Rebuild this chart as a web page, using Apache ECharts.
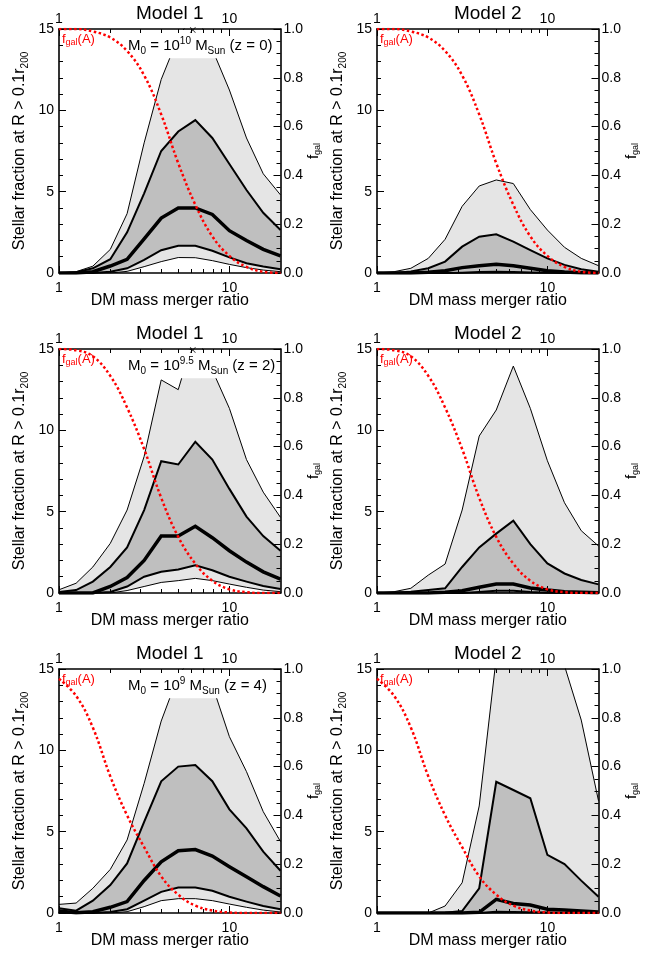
<!DOCTYPE html>
<html><head><meta charset="utf-8">
<script src="https://cdn.jsdelivr.net/npm/echarts@6/dist/echarts.min.js"></script>
<style>html,body{margin:0;padding:0;background:#fff}#c{width:650px;height:959px}</style>
</head><body><div id="c"></div>
<script>
// ---------------- data ----------------
const xRatio = [1.00, 1.26, 1.58, 2.00, 2.51, 3.16, 3.98, 5.01, 6.31, 7.94, 10.0, 12.6, 15.8, 19.95];
const xMajorTicks = [1, 10];
const xMinorTicks = [2, 3, 4, 5, 6, 7, 8, 9];

// Model 1, M0 = 10^10 (z = 0)
const m1z0OuterHi = [0, 0.08, 0.42, 1.45, 3.65, 8.0, 11.9, 14.5, 16, 13.75, 11.25, 8.3, 6.1, 4.8];
const m1z0InnerHi = [0, 0.05, 0.29, 0.85, 2.5, 4.9, 7.5, 8.7, 9.4, 8.3, 6.7, 5.1, 3.7, 2.64];
const m1z0Median  = [0, 0, 0.08, 0.43, 0.84, 2.1, 3.38, 4.0, 4.0, 3.6, 2.6, 2.0, 1.45, 1.05];
const m1z0InnerLo = [0, 0, 0, 0.08, 0.29, 0.8, 1.4, 1.68, 1.68, 1.37, 0.96, 0.6, 0.4, 0.23];
const m1z0OuterLo = [0, 0, 0, 0, 0.1, 0.39, 0.7, 0.95, 0.94, 0.76, 0.53, 0.33, 0.18, 0.08];
// Model 2, z = 0
const m2z0OuterHi = [0, 0.08, 0.29, 0.9, 2.07, 4.1, 5.35, 5.72, 5.5, 3.9, 2.64, 1.58, 0.9, 0.45];
const m2z0InnerHi = [0, 0, 0.1, 0.29, 0.7, 1.62, 2.23, 2.38, 1.93, 1.41, 0.9, 0.5, 0.23, 0.08];
const m2z0Median  = [0, 0, 0, 0.04, 0.14, 0.33, 0.45, 0.53, 0.45, 0.29, 0.14, 0.06, 0.02, 0];
const m2z0InnerLo = [0, 0, 0, 0, 0, 0.02, 0.06, 0.08, 0.06, 0.03, 0.01, 0, 0, 0];
const m2z0OuterLo = [0, 0, 0, 0, 0, 0, 0, 0, 0, 0, 0, 0, 0, 0];
// Model 1, M0 = 10^9.5 (z = 2)
const m1z2OuterHi = [0.2, 0.6, 1.6, 3.05, 5.1, 8.4, 13.1, 12.5, 16, 13.7, 11.35, 8.2, 6.2, 4.65];
const m1z2InnerHi = [0.06, 0.18, 0.7, 1.6, 2.8, 5.1, 8.1, 7.9, 9.3, 8.2, 6.4, 4.7, 3.5, 2.6];
const m1z2Median  = [0, 0, 0, 0.4, 0.95, 2.0, 3.5, 3.5, 4.1, 3.4, 2.6, 1.9, 1.3, 0.85];
const m1z2InnerLo = [0, 0, 0, 0.06, 0.4, 1.0, 1.3, 1.45, 1.7, 1.4, 1.0, 0.7, 0.43, 0.25];
const m1z2OuterLo = [0, 0, 0, 0, 0.15, 0.4, 0.65, 0.76, 0.9, 0.76, 0.55, 0.35, 0.18, 0.08];
// Model 2, z = 2
const m2z2OuterHi = [0, 0.08, 0.29, 1.1, 1.78, 5.1, 9.65, 11.25, 13.95, 11.35, 8.13, 5.55, 3.83, 2.89];
const m2z2InnerHi = [0, 0.02, 0.08, 0.18, 0.29, 1.6, 2.8, 3.65, 4.45, 3.0, 1.82, 1.2, 0.8, 0.53];
const m2z2Median  = [0, 0, 0, 0, 0.04, 0.14, 0.35, 0.55, 0.55, 0.31, 0.18, 0.08, 0.04, 0.02];
const m2z2InnerLo = [0, 0, 0, 0, 0, 0, 0.06, 0.14, 0.14, 0.06, 0.02, 0, 0, 0];
const m2z2OuterLo = [0, 0, 0, 0, 0, 0, 0, 0, 0, 0, 0, 0, 0, 0];
// Model 1, M0 = 10^9 (z = 4)
const m1z4OuterHi = [0.53, 0.61, 1.52, 2.68, 4.49, 7.97, 11.8, 14.6, 16, 14.0, 10.84, 8.69, 6.23, 4.39];
const m1z4InnerHi = [0.29, 0.14, 0.76, 1.72, 3.05, 5.6, 8.1, 9.0, 9.1, 8.1, 6.37, 5.2, 3.77, 2.6];
const m1z4Median  = [0.12, 0.02, 0.08, 0.35, 0.7, 2.0, 3.15, 3.83, 3.9, 3.5, 2.85, 2.23, 1.62, 1.05];
const m1z4InnerLo = [0.02, 0, 0, 0.06, 0.23, 0.76, 1.3, 1.56, 1.56, 1.37, 1.0, 0.7, 0.43, 0.23];
const m1z4OuterLo = [0, 0, 0, 0, 0.08, 0.39, 0.76, 0.88, 0.88, 0.76, 0.55, 0.35, 0.18, 0.06];
// Model 2, z = 4
const m2z4OuterHi = [0, 0, 0, 0, 0.43, 1.86, 6.58, 15.7, 18, 18, 17, 15.2, 11.86, 6.9];
const m2z4InnerHi = [0, 0, 0, 0, 0.02, 0.12, 1.52, 8.07, 7.56, 7.05, 3.57, 3.01, 1.99, 1.0];
const m2z4Median  = [0, 0, 0, 0, 0, 0, 0.04, 0.84, 0.59, 0.49, 0.23, 0.18, 0.12, 0.06];
const m2z4InnerLo = [0, 0, 0, 0, 0, 0, 0, 0.08, 0.06, 0.05, 0.03, 0.02, 0.01, 0];
const m2z4OuterLo = [0, 0, 0, 0, 0, 0, 0, 0, 0, 0, 0, 0, 0, 0];

// f_gal(A) curves (right axis)
const fgalZ0 = [1.0, 1.0, 0.99, 0.965, 0.91, 0.81, 0.65, 0.45, 0.28, 0.15, 0.07, 0.025, 0.005, 0];
const fgalZ2 = [1.0, 0.995, 0.97, 0.89, 0.76, 0.59, 0.39, 0.23, 0.12, 0.05, 0.015, 0.003, 0, 0];
const fgalZ4 = [0.96, 0.89, 0.76, 0.56, 0.40, 0.27, 0.15, 0.075, 0.03, 0.01, 0.002, 0, 0, 0];

// clipped-point markers at the top edge
const clipMarkX = 6.1, clipMarkY = 15;

const yLeftTicks = [0, 5, 10, 15];
const yRightTicks = [0.0, 0.2, 0.4, 0.6, 0.8, 1.0];

const panelTitles = ['Model 1', 'Model 2', 'Model 1', 'Model 2', 'Model 1', 'Model 2'];
const massExp = ['10', '9.5', '9'];
const redshift = ['0', '2', '4'];

// ---------------- layout ----------------
const FONT = '"Liberation Sans", Arial, Helvetica, sans-serif';
const colLeft = [59, 377], rowTop = [29, 349, 669], gridW = 221.5, gridH = 244;
const LIGHT = '#e5e5e5', DARK = '#bfbfbf';

const panels = [
  {r:0,c:0,b:[m1z0OuterHi,m1z0InnerHi,m1z0Median,m1z0InnerLo,m1z0OuterLo],f:fgalZ0,mark:true},
  {r:0,c:1,b:[m2z0OuterHi,m2z0InnerHi,m2z0Median,m2z0InnerLo,m2z0OuterLo],f:fgalZ0,mark:false},
  {r:1,c:0,b:[m1z2OuterHi,m1z2InnerHi,m1z2Median,m1z2InnerLo,m1z2OuterLo],f:fgalZ2,mark:true},
  {r:1,c:1,b:[m2z2OuterHi,m2z2InnerHi,m2z2Median,m2z2InnerLo,m2z2OuterLo],f:fgalZ2,mark:false},
  {r:2,c:0,b:[m1z4OuterHi,m1z4InnerHi,m1z4Median,m1z4InnerLo,m1z4OuterLo],f:fgalZ4,mark:false},
  {r:2,c:1,b:[m2z4OuterHi,m2z4InnerHi,m2z4Median,m2z4InnerLo,m2z4OuterLo],f:fgalZ4,mark:false}
];

const grids = [], xAxes = [], yAxes = [], series = [], graphics = [];
const pts = arr => xRatio.map((x, i) => [x, arr[i]]);
const axisLineStyle = {color: '#000', width: 1.6};

panels.forEach((p, gi) => {
  const L = colLeft[p.c], T = rowTop[p.r];
  grids.push({left: L, top: T, width: gridW, height: gridH, containLabel: false, outerBoundsMode: 'none'});
  const baseX = {type: 'log', logBase: 10, gridIndex: gi, min: 1, max: 19.95, splitLine: {show: false}, z: 4};
  // bottom major
  xAxes.push(Object.assign({}, baseX, {
    position: 'bottom', axisLine: {show: true, onZero: false, lineStyle: axisLineStyle},
    axisTick: {show: true, inside: true, length: 7, customValues: xMajorTicks, lineStyle: {color: '#000', width: 1}},
    axisLabel: {show: true, customValues: xMajorTicks, margin: 8, fontSize: 14, fontFamily: FONT, color: '#000'},
    name: 'DM mass merger ratio', nameLocation: 'middle', nameGap: 20, nameMoveOverlap: false,
    nameTextStyle: {fontSize: 16, fontFamily: FONT, color: '#000', verticalAlign: 'top'}
  }));
  // bottom minor
  xAxes.push(Object.assign({}, baseX, {
    position: 'bottom', axisLine: {show: false, onZero: false},
    axisTick: {show: true, inside: true, length: 4, customValues: xMinorTicks, lineStyle: {color: '#000', width: 1}},
    axisLabel: {show: false}
  }));
  // top major
  xAxes.push(Object.assign({}, baseX, {
    position: 'top', axisLine: {show: true, onZero: false, lineStyle: axisLineStyle},
    axisTick: {show: true, inside: true, length: 7, customValues: xMajorTicks, lineStyle: {color: '#000', width: 1}},
    axisLabel: {show: true, customValues: xMajorTicks, margin: 3, fontSize: 14, fontFamily: FONT, color: '#000'}
  }));
  // top minor
  xAxes.push(Object.assign({}, baseX, {
    position: 'top', axisLine: {show: false, onZero: false},
    axisTick: {show: true, inside: true, length: 4, customValues: xMinorTicks, lineStyle: {color: '#000', width: 1}},
    axisLabel: {show: false}
  }));
  // left y
  yAxes.push({
    type: 'value', gridIndex: gi, position: 'left', min: 0, max: 15, interval: 5, z: 4,
    axisLine: {show: true, onZero: false, lineStyle: axisLineStyle},
    axisTick: {show: true, inside: true, length: 7, customValues: yLeftTicks, lineStyle: {color: '#000', width: 1}},
    minorTick: {show: true, splitNumber: 5, length: 4, lineStyle: {color: '#000', width: 1}},
    axisLabel: {customValues: yLeftTicks, margin: 5, fontSize: 14, fontFamily: FONT, color: '#000'},
    splitLine: {show: false}, minorSplitLine: {show: false},
    name: '{a|Stellar fraction at R > 0.1r}{b|200}', nameLocation: 'middle', nameGap: 29, nameRotate: 90, nameMoveOverlap: false,
    nameTextStyle: {color: '#000', rich: {
      a: {fontSize: 16, fontFamily: FONT, color: '#000', lineHeight: 20, verticalAlign: 'middle'},
      b: {fontSize: 10, fontFamily: FONT, color: '#000', lineHeight: 10, verticalAlign: 'bottom'}}}
  });
  // right y (f_gal)
  yAxes.push({
    type: 'value', gridIndex: gi, position: 'right', min: 0, max: 1, interval: 0.2, z: 4,
    axisLine: {show: true, onZero: false, lineStyle: axisLineStyle},
    axisTick: {show: true, inside: true, length: 7, customValues: yRightTicks, lineStyle: {color: '#000', width: 1}},
    minorTick: {show: true, splitNumber: 4, length: 4, lineStyle: {color: '#000', width: 1}},
    axisLabel: {customValues: yRightTicks, margin: 3, fontSize: 14, fontFamily: FONT, color: '#000', formatter: v => v.toFixed(1)},
    splitLine: {show: false}, minorSplitLine: {show: false},
    name: '{a|f}{b|gal}', nameLocation: 'middle', nameGap: 24, nameRotate: 90, nameMoveOverlap: false,
    nameTextStyle: {color: '#000', rich: {
      a: {fontSize: 15, fontFamily: FONT, color: '#000', lineHeight: 18, verticalAlign: 'middle'},
      b: {fontSize: 9, fontFamily: FONT, color: '#000', lineHeight: 9, verticalAlign: 'bottom'}}}
  });

  const xi = gi * 4, yl = gi * 2, yr = gi * 2 + 1;
  const [oHi, iHi, med, iLo, oLo] = p.b;
  const fill = (arr, color, z) => ({type: 'line', xAxisIndex: xi, yAxisIndex: yl, data: pts(arr), symbol: 'none',
    lineStyle: {width: 0, opacity: 0}, areaStyle: {color: color, opacity: 1}, z: 1, z2: z, silent: true, animation: false});
  const line = (arr, w) => ({type: 'line', xAxisIndex: xi, yAxisIndex: yl, data: pts(arr), symbol: 'none',
    lineStyle: {width: w, color: '#000', join: 'miter'}, z: 2, silent: true, animation: false});
  series.push(fill(oHi, LIGHT, 1), fill(iHi, DARK, 2), fill(iLo, LIGHT, 3), fill(oLo, '#ffffff', 4));
  series.push(line(oHi, 1), line(oLo, 1), line(iHi, 2), line(iLo, 2), line(med, 3.5));
  series.push({type: 'line', xAxisIndex: xi, yAxisIndex: yr, data: pts(p.f), symbol: 'none', smooth: 0.4,
    lineStyle: {width: 2.5, color: '#ff0000', type: [2.5, 2.5], cap: 'butt'}, z: 6, silent: true, animation: false});
  if (p.mark) {
    series.push({type: 'scatter', xAxisIndex: xi, yAxisIndex: yl, data: [[clipMarkX, clipMarkY]], clip: false,
      symbol: 'path://M0,1 L1,0 L5,4 L9,0 L10,1 L6,5 L10,9 L9,10 L5,6 L1,10 L0,9 L4,5 Z', symbolSize: 6, symbolOffset: [0, 1],
      itemStyle: {color: '#000'}, z: 6, silent: true, animation: false});
  }

  // titles and annotations
  graphics.push({type: 'text', x: L + gridW / 2, y: T - 15, z: 10,
    style: {text: panelTitles[gi], fontSize: 19, fontFamily: FONT, fill: '#000', align: 'center', verticalAlign: 'middle'}});
  graphics.push({type: 'text', x: L + 3, y: T + 10, z: 10,
    style: {text: '{a|f}{b|gal}{a|(A)}', align: 'left', verticalAlign: 'middle', rich: {
      a: {fontSize: 13, fontFamily: FONT, fill: '#ff0000', color: '#ff0000', lineHeight: 16, verticalAlign: 'middle'},
      b: {fontSize: 9, fontFamily: FONT, fill: '#ff0000', color: '#ff0000', lineHeight: 10, verticalAlign: 'bottom'}}}});
  if (p.c === 0) {
    const boxBottom = T + (15 - 13.2) / 15 * gridH;
    graphics.push({type: 'rect', z: 3, shape: {x: 126, y: T + 1, width: L + gridW - 126 - 1, height: boxBottom - T - 1},
      style: {fill: '#ffffff'}, silent: true});
    graphics.push({type: 'text', x: 128, y: T + 17, z: 10,
      style: {text: '{m|M}{s|0}{m| = 10}{p|' + massExp[p.r] + '}{m| M}{s|Sun}{m| (z = ' + redshift[p.r] + ')}',
        align: 'left', verticalAlign: 'middle', rich: {
        m: {fontSize: 15, fontFamily: FONT, fill: '#000', color: '#000', lineHeight: 20, verticalAlign: 'middle'},
        s: {fontSize: 10, fontFamily: FONT, fill: '#000', color: '#000', lineHeight: 11, verticalAlign: 'bottom'},
        p: {fontSize: 10, fontFamily: FONT, fill: '#000', color: '#000', lineHeight: 11, verticalAlign: 'top'}}}});
  }
});

const chart = echarts.init(document.getElementById('c'), null, {renderer: 'canvas'});
chart.setOption({
  animation: false, backgroundColor: '#ffffff',
  grid: grids, xAxis: xAxes, yAxis: yAxes, series: series, graphic: {elements: graphics}
});
</script></body></html>
